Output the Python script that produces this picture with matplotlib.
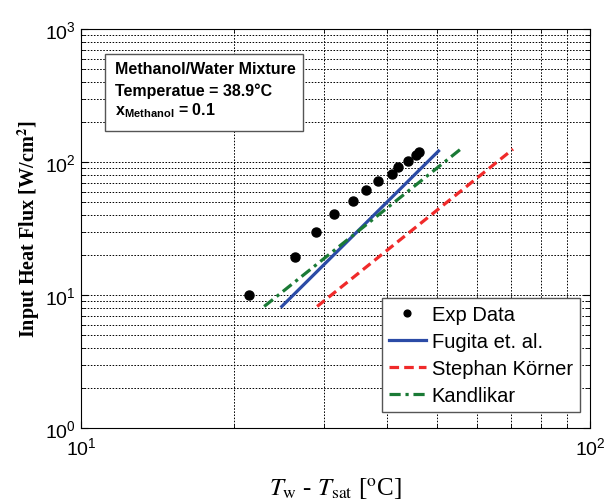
import numpy as np
import matplotlib
matplotlib.use("Agg")
from matplotlib import pyplot as plt
from matplotlib.ticker import LogLocator, NullFormatter
from matplotlib.patches import Rectangle

plt.rcParams['font.family'] = ['Liberation Sans', 'DejaVu Sans']
plt.rcParams['mathtext.fontset'] = 'custom'
plt.rcParams['mathtext.rm'] = 'Liberation Sans'
plt.rcParams['mathtext.it'] = 'Liberation Sans:italic'
plt.rcParams['mathtext.bf'] = 'Liberation Sans:bold'

# experimental points
exp_dT = [21.4, 26.3, 28.9, 31.4, 34.2, 36.3, 38.3, 40.8, 42.0, 43.9, 45.5, 46.2]
exp_q = [10.0, 19.3, 30.0, 40.5, 51.0, 61.5, 72.0, 81.0, 91.5, 102.0, 113.0, 118.0]

# correlation lines (end points, straight in log-log)
fugita_dT = [24.8, 50.4]
fugita_q = [8.2, 121.0]
stephan_dT = [29.1, 70.6]
stephan_q = [8.2, 125.0]
kandlikar_dT = [22.9, 55.7]
kandlikar_q = [8.2, 125.0]

fig = plt.figure(figsize=(6.05, 5.02), dpi=100)
ax = fig.add_axes([81/605, 1 - 429/502, 509/605, 399/502])

ax.loglog(exp_dT, exp_q, 'o', color='black', markersize=6.5, label='Exp Data')
ax.loglog(fugita_dT, fugita_q, '-', color='#2b4ba6', lw=2.3, label='Fugita et. al.')
ax.loglog(stephan_dT, stephan_q, '--', color='#f02a2a', lw=2.3, dashes=(3, 1.6), label='Stephan Körner')
ax.loglog(kandlikar_dT, kandlikar_q, '-.', color='#1a7a35', lw=2.3, dashes=(3.5, 1.5, 1, 1.5), label='Kandlikar')

ax.set_xlim(10, 100)
ax.set_ylim(1, 1000)
ax.xaxis.set_minor_locator(LogLocator(base=10, subs=np.arange(2, 10)))
ax.yaxis.set_minor_locator(LogLocator(base=10, subs=np.arange(2, 10)))
ax.xaxis.set_minor_formatter(NullFormatter())
ax.yaxis.set_minor_formatter(NullFormatter())
ax.grid(True, which='both', linestyle=(0, (1.6, 1.6)), color='black', lw=0.7)
ax.tick_params(which='both', direction='in', top=True, right=True, labelsize=14)
ax.tick_params(which='major', length=5)
ax.tick_params(which='minor', length=3)
ax.tick_params(axis='x', pad=6)
for s in ax.spines.values():
    s.set_linewidth(0.8)

ax.set_xlabel(r'$T_{\mathrm{w}}$ - $T_{\mathrm{sat}}$ [$^{\mathrm{o}}$C]', fontsize=18,
              family='Liberation Serif', math_fontfamily='stix', labelpad=13)
ax.set_ylabel(r'Input Heat Flux [W/cm$^{\mathbf{2}}$]', fontsize=14.5, fontweight='bold',
              family='Liberation Serif', math_fontfamily='stix', labelpad=2)

# annotation box
ax.add_patch(Rectangle((0.047, 0.744), 0.389, 0.193, transform=ax.transAxes,
                       facecolor='white', edgecolor='#555555', lw=1, zorder=5))
ax.text(0.067, 0.900, 'Methanol/Water Mixture', transform=ax.transAxes, fontsize=11.5,
        fontweight='bold', va='center', ha='left', zorder=6)
ax.text(0.067, 0.847, 'Temperatue = 38.9°C', transform=ax.transAxes, fontsize=11.5,
        fontweight='bold', va='center', ha='left', zorder=6)
ax.text(0.067, 0.799, r'$\mathbf{x_{Methanol}}$ = 0.1', transform=ax.transAxes, fontsize=11.5,
        fontweight='bold', va='center', ha='left', zorder=6)

leg = ax.legend(loc='lower right', bbox_to_anchor=(0.980, 0.040), borderaxespad=0,
                fontsize=14.5, fancybox=False, edgecolor='#555555', framealpha=1,
                handlelength=1.8, handletextpad=0.3, labelspacing=0.4, borderpad=0.35,
                markerscale=0.75)
leg.get_frame().set_linewidth(1)

fig.savefig('out.png', dpi=100)
